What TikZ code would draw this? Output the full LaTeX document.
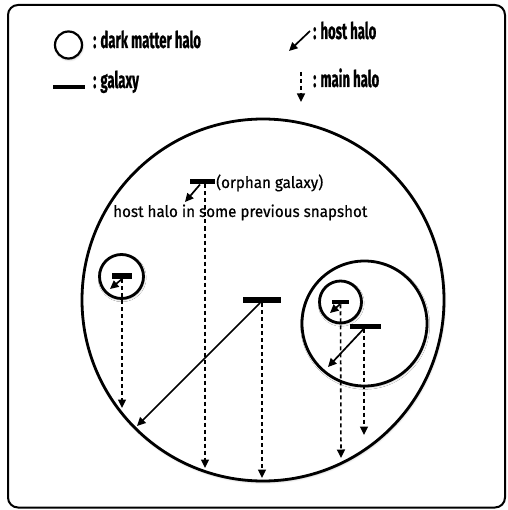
\documentclass[tikz,border=0pt]{standalone}
\usepackage{fontspec}
\setmainfont{Fira Sans}
\newfontfamily\legfont{Fira Sans}[FakeStretch=0.57, FakeBold=0.8]
\newfontfamily\notefont{Fira Sans}[FakeStretch=0.95, FakeBold=0.6]
\usetikzlibrary{arrows.meta,shadows.blur}
\begin{document}
\begin{tikzpicture}[x=1pt,y=-1pt,
  halo/.style={circle, draw, line width=2.8pt, fill=white, inner sep=0pt, outer sep=0pt, minimum size=#1,
    blur shadow={shadow xshift=0.6pt, shadow yshift=-1.2pt, shadow blur steps=6, shadow opacity=30}},
  galaxy/.style={fill=black, inner sep=0pt, outer sep=0pt, minimum width=#1},
  host/.style={-{Triangle[length=8.5pt,width=8pt]}, line width=1.7pt},
  mainh/.style={-{Triangle[length=8.5pt,width=8pt]}, line width=1.6pt, dash pattern=on 4pt off 3pt},
  leg/.style={font=\legfont\bfseries\fontsize{23}{26}\selectfont, anchor=base west, inner sep=0pt},
  note/.style={font=\notefont\fontsize{16}{19}\selectfont, anchor=base west, inner sep=0pt}]
\useasboundingbox (0,0) rectangle (507,510);
% frame
\draw[line width=2pt, rounded corners=10pt] (8,5) rectangle (505,507.5);
% halos
\node[halo=362pt] (big) at (263,300) {};
\node[halo=125pt] (med) at (364.5,323.5) {};
\node[halo=44pt] (sL) at (121.5,276.5) {};
\node[halo=42pt] (sR) at (340.5,302) {};
% galaxies
\node[galaxy=25pt, minimum height=5pt] (gO) at (202.5,182) {};
\node[galaxy=20pt, minimum height=6pt] (gL) at (122,276) {};
\node[galaxy=38pt, minimum height=6pt] (gC) at (262,300) {};
\node[galaxy=17pt, minimum height=4.5pt] (gR) at (340.5,302) {};
\node[galaxy=31pt, minimum height=5pt] (gM) at (365.5,326) {};
% end points
\coordinate (hO) at (185,202);
\coordinate (eO) at (205,468);
\coordinate (hL) at (110,289);
\coordinate (eL) at (122,408);
\coordinate (hC) at (137,426);
\coordinate (eC) at (262,478);
\coordinate (hR) at (330,313);
\coordinate (eR) at (341,458);
\coordinate (hM) at (328,367);
\coordinate (eM) at (364,435);
% connectors
\draw[host] ([xshift=-2.5pt]gO.south) -- (hO);
\draw[mainh] ([xshift=2.5pt]gO.south) -- (eO);
\draw[host] (gL.south) -- (hL);
\draw[mainh] (gL.south) -- (eL);
\draw[host] ([xshift=-2pt]gC.south) -- (hC);
\draw[mainh] (gC.south) -- (eC);
\draw[host] ([xshift=-0.5pt]gR.south) -- (hR);
\draw[mainh] (gR.south) -- (eR);
\draw[host] ([xshift=-1.5pt]gM.south) -- (hM);
\draw[mainh] ([xshift=-1.5pt]gM.south) -- (eM);
% texts
\node[note] (tO) at (216,188) {(orphan galaxy)};
\node[note] (tP) at (113,217) {host halo in some previous snapshot};
% legend
\node[halo=27pt, line width=2.2pt] (legC) at (68.5,45) {};
\node[galaxy=32pt, minimum height=4pt] (legG) at (69,87) {};
\coordinate (lh1) at (310,31);
\coordinate (lh2) at (289,51);
\coordinate (lm1) at (301,72);
\coordinate (lm2) at (301,102);
\draw[host] (lh1) -- (lh2);
\draw[mainh] (lm1) -- (lm2);
\node[leg] (t1) at (93,48) {: dark matter halo};
\node[leg] (t2) at (93,88) {: galaxy};
\node[leg] (t3) at (313,39) {: host halo};
\node[leg] (t4) at (313,87) {: main halo};
\end{tikzpicture}
\end{document}
